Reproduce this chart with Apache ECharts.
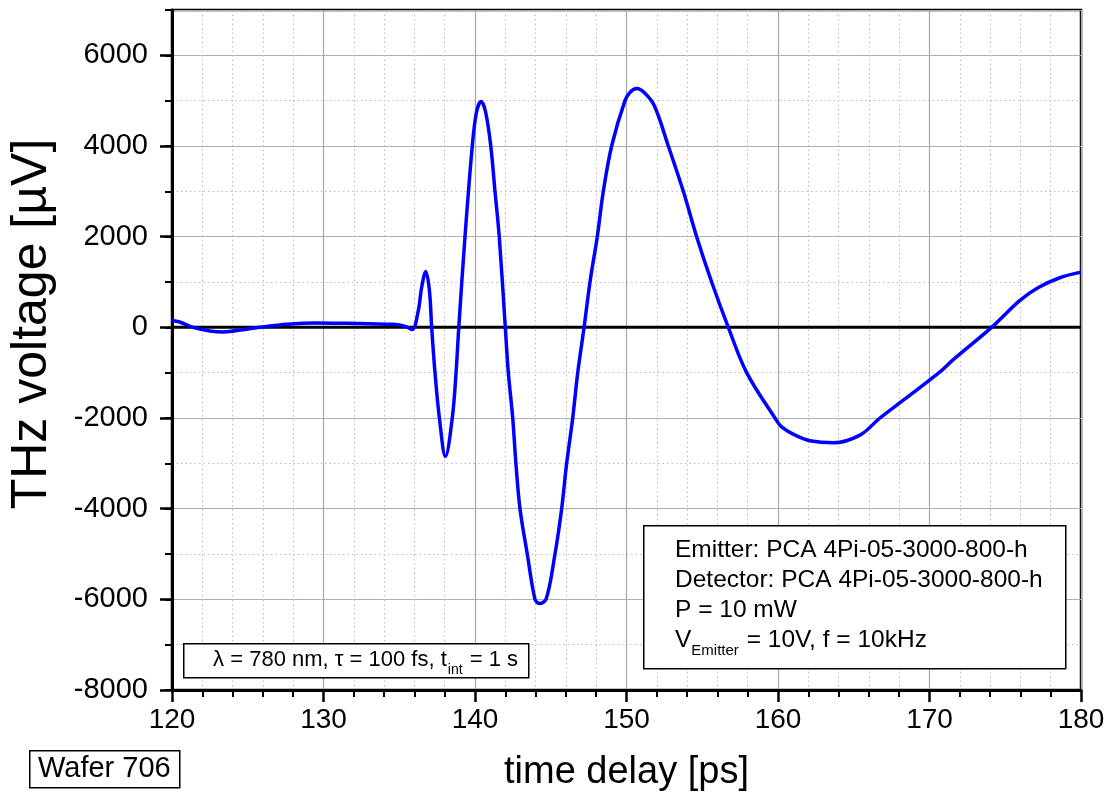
<!DOCTYPE html>
<html>
<head>
<meta charset="utf-8">
<script src="https://cdn.jsdelivr.net/npm/echarts@6/dist/echarts.min.js"></script>
<style>
html,body{margin:0;padding:0;background:#fff;}
#chart{width:1114px;height:797px;}
</style>
</head>
<body>
<div id="chart"></div>
<script>
// time delay [ps]
const times = [120, 120.5, 121.4, 122.5, 123.4, 124.7, 125.8, 127.6, 129.5, 131.5, 133, 134.6, 135.4, 135.85, 136.26, 136.48, 136.75, 136.99, 137.14, 137.36, 137.65, 138.05, 138.5, 138.75, 138.93, 139.34, 139.82, 140.1, 140.4, 140.7, 141.04, 141.32, 141.6, 142.0, 142.2, 142.49, 142.7, 142.97, 143.45, 143.96, 144.23, 144.69, 145.28, 145.72, 146.05, 146.45, 146.78, 147.2, 147.59, 148.07, 148.47, 149.02, 149.9, 150.25, 150.67, 151.2, 151.84, 152.76, 153.75, 154.63, 155.62, 156.72, 157.93, 159.8, 160.24, 161.2, 162.11, 163.65, 165.41, 166.73, 168.27, 170.69, 171.57, 174.1, 175.97, 177.16, 178.6, 180];
// THz voltage [µV]
const voltages = [150, 117, 0, -81, -103, -51, 0, 66, 95, 88, 78, 66, 20, -50, 374, 887, 1233, 814, 0, -1000, -2000, -2850, -2000, -1000, 0, 2000, 4000, 4750, 4980, 4750, 4000, 3000, 2000, 0, -1000, -2000, -3000, -4000, -5000, -6000, -6090, -6000, -5000, -4000, -3000, -2000, -1000, 0, 1000, 2000, 3000, 4000, 5000, 5190, 5268, 5170, 4886, 4000, 3000, 2000, 1000, 0, -1000, -2000, -2195, -2390, -2502, -2546, -2377, -2000, -1607, -983, -711, 0, 594, 874, 1094, 1217];
// zero reference line
const baselineTimes = [120, 180];
const baselineValues = [0, 0];

const xTicks = [120, 130, 140, 150, 160, 170, 180];
const yTicks = [-8000, -6000, -4000, -2000, 0, 2000, 4000, 6000];

const FONT = '"Liberation Sans", Arial, sans-serif';
const chart = echarts.init(document.getElementById('chart'), null, {renderer: 'canvas'});

const mainData = times.map((t, i) => [t, voltages[i]]);
const zeroData = baselineTimes.map((t, i) => [t, baselineValues[i]]);

const option = {
  backgroundColor: '#fff',
  animation: false,
  grid: {left: 172, right: 33, top: 10, bottom: 106, show: true, borderColor: '#000', borderWidth: 2.5, backgroundColor: 'transparent'},
  xAxis: {
    type: 'value', min: 120, max: 180, interval: 10,
    name: 'time delay [ps]', nameLocation: 'middle', nameGap: 64,
    nameTextStyle: {fontFamily: FONT, fontSize: 38, color: '#000'},
    axisLine: {show: true, onZero: false, lineStyle: {color: '#000', width: 3}},
    axisTick: {show: true, inside: false, length: 12, lineStyle: {color: '#000', width: 2.5}},
    minorTick: {show: true, splitNumber: 5, length: 7, lineStyle: {color: '#000', width: 2}},
    axisLabel: {fontFamily: FONT, fontSize: 28, color: '#000', margin: 16,
      formatter: v => xTicks.includes(v) ? String(v) : ''},
    splitLine: {show: true, lineStyle: {color: '#a8a8a8', width: 1.2}},
    minorSplitLine: {show: true, lineStyle: {color: '#bcbcbc', width: 1, type: [1.5, 3]}}
  },
  yAxis: [{
    type: 'value', min: -8000, max: 7000, interval: 2000,
    axisLine: {show: true, onZero: false, lineStyle: {color: '#000', width: 3}},
    axisTick: {show: true, inside: false, length: 12, lineStyle: {color: '#000', width: 2.5}},
    axisLabel: {fontFamily: FONT, fontSize: 29, color: '#000', margin: 24, showMaxLabel: false,
      formatter: v => yTicks.includes(v) ? String(v) : ''},
    splitLine: {show: true, lineStyle: {color: '#a8a8a8', width: 1.2}}
  }, {
    type: 'value', min: -8000, max: 7000, interval: 1000, position: 'left',
    axisLine: {show: false},
    axisTick: {show: true, inside: false, length: 7, lineStyle: {color: '#000', width: 2}},
    axisLabel: {show: false},
    splitLine: {show: true, lineStyle: {color: '#bcbcbc', width: 1, type: [1.5, 3]}},
    z: 0
  }],
  series: [{
    type: 'line', data: zeroData, yAxisIndex: 0, showSymbol: false, symbol: 'none',
    lineStyle: {color: '#000', width: 3}, z: 3, silent: true
  }, {
    type: 'line', data: mainData, yAxisIndex: 0, showSymbol: false, symbol: 'none',
    smooth: 0.35,
    lineStyle: {color: '#0000ff', width: 3.5}, z: 4, silent: true
  }],
  graphic: [
    {type: 'text', x: 32, y: 324, rotation: Math.PI / 2, z: 11, style: {text: 'THz voltage [µV]', font: '50px ' + FONT, fill: '#000', align: 'center', verticalAlign: 'middle'}},
    {type: 'rect', left: 183, top: 643, shape: {width: 345, height: 34}, style: {fill: '#fff', stroke: '#000', lineWidth: 1.5}, z: 10},
    {type: 'text', x: 518, y: 660, z: 11, style: {
      text: '{a|λ = 780 nm, τ = 100 fs, t}{s|int}{a| = 1 s}',
      align: 'right', verticalAlign: 'middle', fill: '#000',
      rich: {
        a: {fontFamily: FONT, fontSize: 22, lineHeight: 26, fill: '#000'},
        s: {fontFamily: FONT, fontSize: 14, lineHeight: 14, padding: [20, 1, 0, 1], fill: '#000'}
      }}},
    {type: 'rect', left: 643, top: 525, shape: {width: 422, height: 143}, style: {fill: '#fff', stroke: '#000', lineWidth: 1.5}, z: 10},
    {type: 'text', x: 675, y: 550, z: 11, style: {text: 'Emitter: PCA 4Pi-05-3000-800-h', font: '24.5px ' + FONT, fill: '#000', align: 'left', verticalAlign: 'middle'}},
    {type: 'text', x: 675, y: 580, z: 11, style: {text: 'Detector: PCA 4Pi-05-3000-800-h', font: '24.5px ' + FONT, fill: '#000', align: 'left', verticalAlign: 'middle'}},
    {type: 'text', x: 675, y: 610, z: 11, style: {text: 'P = 10 mW', font: '24.5px ' + FONT, fill: '#000', align: 'left', verticalAlign: 'middle'}},
    {type: 'text', x: 675, y: 640, z: 11, style: {
      text: '{a|V}{s|Emitter}{a| = 10V, f = 10kHz}',
      align: 'left', verticalAlign: 'middle', fill: '#000',
      rich: {
        a: {fontFamily: FONT, fontSize: 24.5, lineHeight: 28, fill: '#000'},
        s: {fontFamily: FONT, fontSize: 15, lineHeight: 15, padding: [21, 1, 0, 0], fill: '#000'}
      }}},
    {type: 'rect', left: 29, top: 750, shape: {width: 150, height: 37}, style: {fill: '#fff', stroke: '#000', lineWidth: 1.5}, z: 10},
    {type: 'text', x: 38, y: 769, z: 11, style: {text: 'Wafer 706', font: '29px ' + FONT, fill: '#000', align: 'left', verticalAlign: 'middle'}}
  ]
};
chart.setOption(option);
</script>
</body>
</html>
